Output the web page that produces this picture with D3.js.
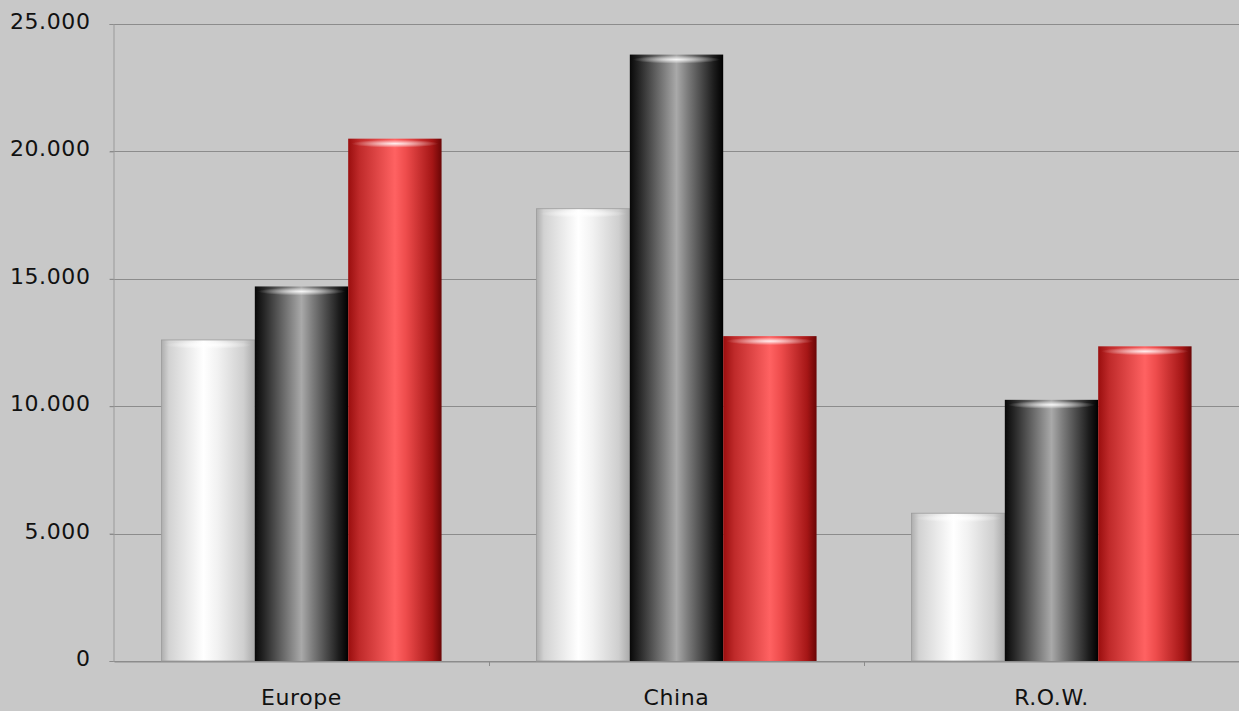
<!DOCTYPE html>
<html>
<head>
<meta charset="utf-8">
<script src="https://cdn.jsdelivr.net/npm/d3@7"></script>
<style>
  html, body { margin: 0; padding: 0; background: #c8c8c8; }
  svg { display: block; }
  .tick text { font-family: "DejaVu Sans", sans-serif; letter-spacing: 0.6px; }
</style>
</head>
<body>
<div id="chart"></div>
<script>
// Data
const categories = ['Europe', 'China', 'R.O.W.'];
const seriesKeys = ['white', 'black', 'red'];
const whiteValues = [12600, 17750, 5800];
const blackValues = [14700, 23800, 10250];
const redValues = [20500, 12750, 12350];
const yTicks = [0, 5000, 10000, 15000, 20000, 25000];

const width = 1239;
const height = 711;
const margin = {top: 24, right: 0, bottom: 50, left: 114};

const svg = d3.select('#chart')
  .append('svg')
    .attr('width', width)
    .attr('height', height);

svg.append('rect')
  .attr('width', width)
  .attr('height', height)
  .attr('fill', '#c8c8c8');

// Gradients for the cylinder look
const defs = svg.append('defs');
const gradientStops = {
  white: [[0, '#adadad'], [0.08, '#d2d2d2'], [0.45, '#ffffff'], [0.6, '#f2f2f2'], [0.88, '#cfcfcf'], [1, '#aaaaaa']],
  black: [[0, '#080808'], [0.1, '#262626'], [0.5, '#a9a9a9'], [0.62, '#7c7c7c'], [0.9, '#1c1c1c'], [1, '#000000']],
  red: [[0, '#9a0e0e'], [0.12, '#bf2a2a'], [0.5, '#ff6262'], [0.62, '#ee4c4c'], [0.9, '#a51616'], [1, '#6a0606']]
};
seriesKeys.forEach(key => {
  const g = defs.append('linearGradient')
    .attr('id', 'grad-' + key)
    .attr('x1', '0%').attr('x2', '100%')
    .attr('y1', '0%').attr('y2', '0%');
  g.selectAll('stop')
    .data(gradientStops[key])
    .join('stop')
      .attr('offset', d => d[0])
      .attr('stop-color', d => d[1]);
});
const capGrad = defs.append('radialGradient')
  .attr('id', 'cap');
capGrad.append('stop').attr('offset', 0).attr('stop-color', '#fff').attr('stop-opacity', 0.9);
capGrad.append('stop').attr('offset', 0.6).attr('stop-color', '#fff').attr('stop-opacity', 0.35);
capGrad.append('stop').attr('offset', 1).attr('stop-color', '#fff').attr('stop-opacity', 0);

// Scales
const x0 = d3.scaleBand()
  .domain(categories)
  .range([margin.left, width - margin.right])
  .paddingInner(0.253)
  .paddingOuter(0.1265);
const x1 = d3.scaleBand()
  .domain(seriesKeys)
  .range([0, x0.bandwidth()]);
const y = d3.scaleLinear()
  .domain([0, 25000])
  .range([height - margin.bottom, margin.top]);

const locale = d3.formatLocale({decimal: ',', thousands: '.', grouping: [3], currency: ['', '']});
const fmt = locale.format(',d');

// Gridlines
svg.append('g')
  .attr('stroke', '#8c8c8c')
  .attr('stroke-width', 1)
  .selectAll('line')
  .data(yTicks)
  .join('line')
    .attr('x1', margin.left - 4)
    .attr('x2', width)
    .attr('y1', d => Math.round(y(d)) + 0.5)
    .attr('y2', d => Math.round(y(d)) + 0.5);

// Y axis
const yAxis = svg.append('g')
  .attr('transform', `translate(${margin.left - 0.5},0)`)
  .call(d3.axisLeft(y).tickValues(yTicks).tickFormat(fmt).tickSize(4).tickPadding(19));
yAxis.select('.domain').attr('stroke', '#9a9a9a');
yAxis.selectAll('.tick line').attr('stroke', '#8c8c8c');
yAxis.selectAll('.tick text')
  .attr('font-size', 22)
  .attr('fill', '#111')
  .attr('dy', '0.2em');

// X axis
const xAxis = svg.append('g')
  .attr('transform', `translate(0,${Math.round(y(0)) + 0.5})`)
  .call(d3.axisBottom(x0).tickSize(0).tickPadding(28));
xAxis.select('.domain').attr('stroke', '#8c8c8c');
xAxis.selectAll('.tick text')
  .attr('font-size', 22)
  .attr('fill', '#111');
// boundary ticks between categories
svg.append('g')
  .attr('stroke', '#8c8c8c')
  .selectAll('line')
  .data(categories.slice(1))
  .join('line')
    .attr('x1', d => Math.round(x0(d) - x0.step() * x0.paddingInner() / 2) + 0.5)
    .attr('x2', d => Math.round(x0(d) - x0.step() * x0.paddingInner() / 2) + 0.5)
    .attr('y1', y(0))
    .attr('y2', y(0) + 5);

// Bars
const valuesByKey = {white: whiteValues, black: blackValues, red: redValues};
const barData = categories.flatMap((c, i) => seriesKeys.map(k => ({category: c, key: k, value: valuesByKey[k][i]})));

const bars = svg.append('g')
  .attr('class', 'bars-group')
  .selectAll('g')
  .data(barData)
  .join('g')
    .attr('transform', d => `translate(${x0(d.category) + x1(d.key)},0)`);

bars.append('rect')
  .attr('x', 0)
  .attr('y', d => y(d.value))
  .attr('width', x1.bandwidth())
  .attr('height', d => y(0) - y(d.value))
  .attr('fill', d => `url(#grad-${d.key})`)
  .attr('stroke', d => d.key === 'white' ? '#9c9c9c' : 'none')
  .attr('stroke-width', 0.8);

// top cap highlight
bars.append('ellipse')
  .attr('cx', x1.bandwidth() / 2)
  .attr('cy', d => y(d.value) + 5)
  .attr('rx', x1.bandwidth() / 2 - 3)
  .attr('ry', 4)
  .attr('fill', 'url(#cap)');
</script>
</body>
</html>
